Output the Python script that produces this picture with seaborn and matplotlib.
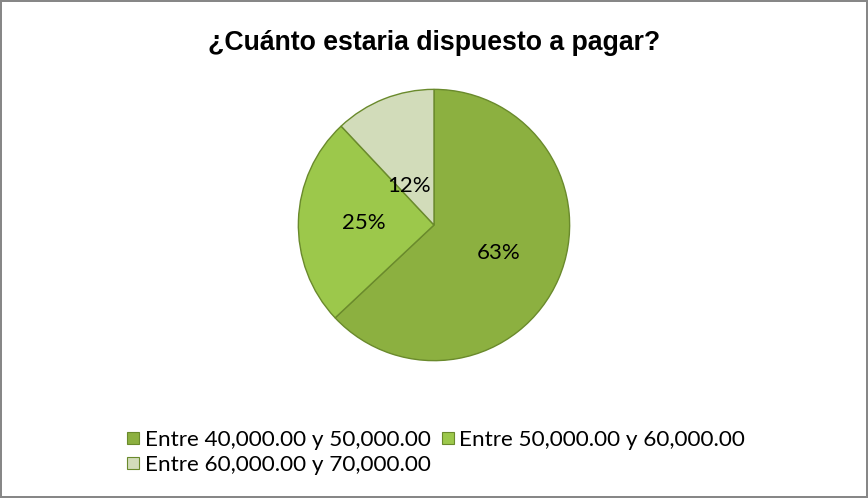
import numpy as np
import matplotlib.pyplot as plt
from matplotlib.lines import Line2D
import seaborn as sns

# datos
rangos = ['Entre 40,000.00 y 50,000.00', 'Entre 50,000.00 y 60,000.00', 'Entre 60,000.00 y 70,000.00']
porcentajes = [63, 25, 12]
colores = ['#8cb040', '#9cc84b', '#d2dcba']
titulo = '¿Cuánto estaria dispuesto a pagar?'

sns.set_style('white')
plt.rcParams['font.family'] = ['Lato', 'DejaVu Sans']
plt.rcParams['text.color'] = 'black'

fig = plt.figure(figsize=(8.68, 4.98), dpi=100)
fig.patch.set_edgecolor('#878787')
fig.patch.set_linewidth(1.5)

fig.text(0.5, 0.913, titulo, ha='center', va='center', fontsize=19.2, fontweight='bold',
         family=['Liberation Sans', 'DejaVu Sans'])

# pie ocupa exactamente su eje
ax = fig.add_axes([(434 - 137) / 868, (498 - 362) / 498, 274 / 868, 274 / 498])
wedges, textos, pcts = ax.pie(porcentajes, colors=colores, startangle=90, counterclock=False,
                              autopct='%1.0f%%', pctdistance=0.52,
                              wedgeprops={'edgecolor': '#6a8a2c', 'linewidth': 1},
                              textprops={'fontsize': 16, 'color': 'black'})
# la etiqueta del 12% va más cerca del centro y hacia el borde izquierdo de su porción
w = wedges[2]
ang = np.deg2rad(w.theta1 + 0.76 * (w.theta2 - w.theta1))
pcts[2].set_position((0.34 * np.cos(ang), 0.34 * np.sin(ang)))
ax.set_xlim(-1.01, 1.01)
ax.set_ylim(-1.01, 1.01)
ax.set_aspect('equal')
ax.axis('off')

handles = [Line2D([], [], marker='s', linestyle='', markersize=9, markerfacecolor=c,
                  markeredgecolor='#6a8a2c', markeredgewidth=0.8) for c in colores]
orden = [0, 2, 1]
fig.legend([handles[i] for i in orden], [rangos[i] for i in orden], ncol=2,
           loc='upper left', bbox_to_anchor=(126 / 868, 1 - 430 / 498), frameon=False,
           fontsize=16.2, handlelength=0.65, handletextpad=0.18, columnspacing=0.45,
           labelspacing=0.22, borderaxespad=0, borderpad=0)

fig.savefig('out.png', dpi=100, edgecolor=fig.get_edgecolor())
